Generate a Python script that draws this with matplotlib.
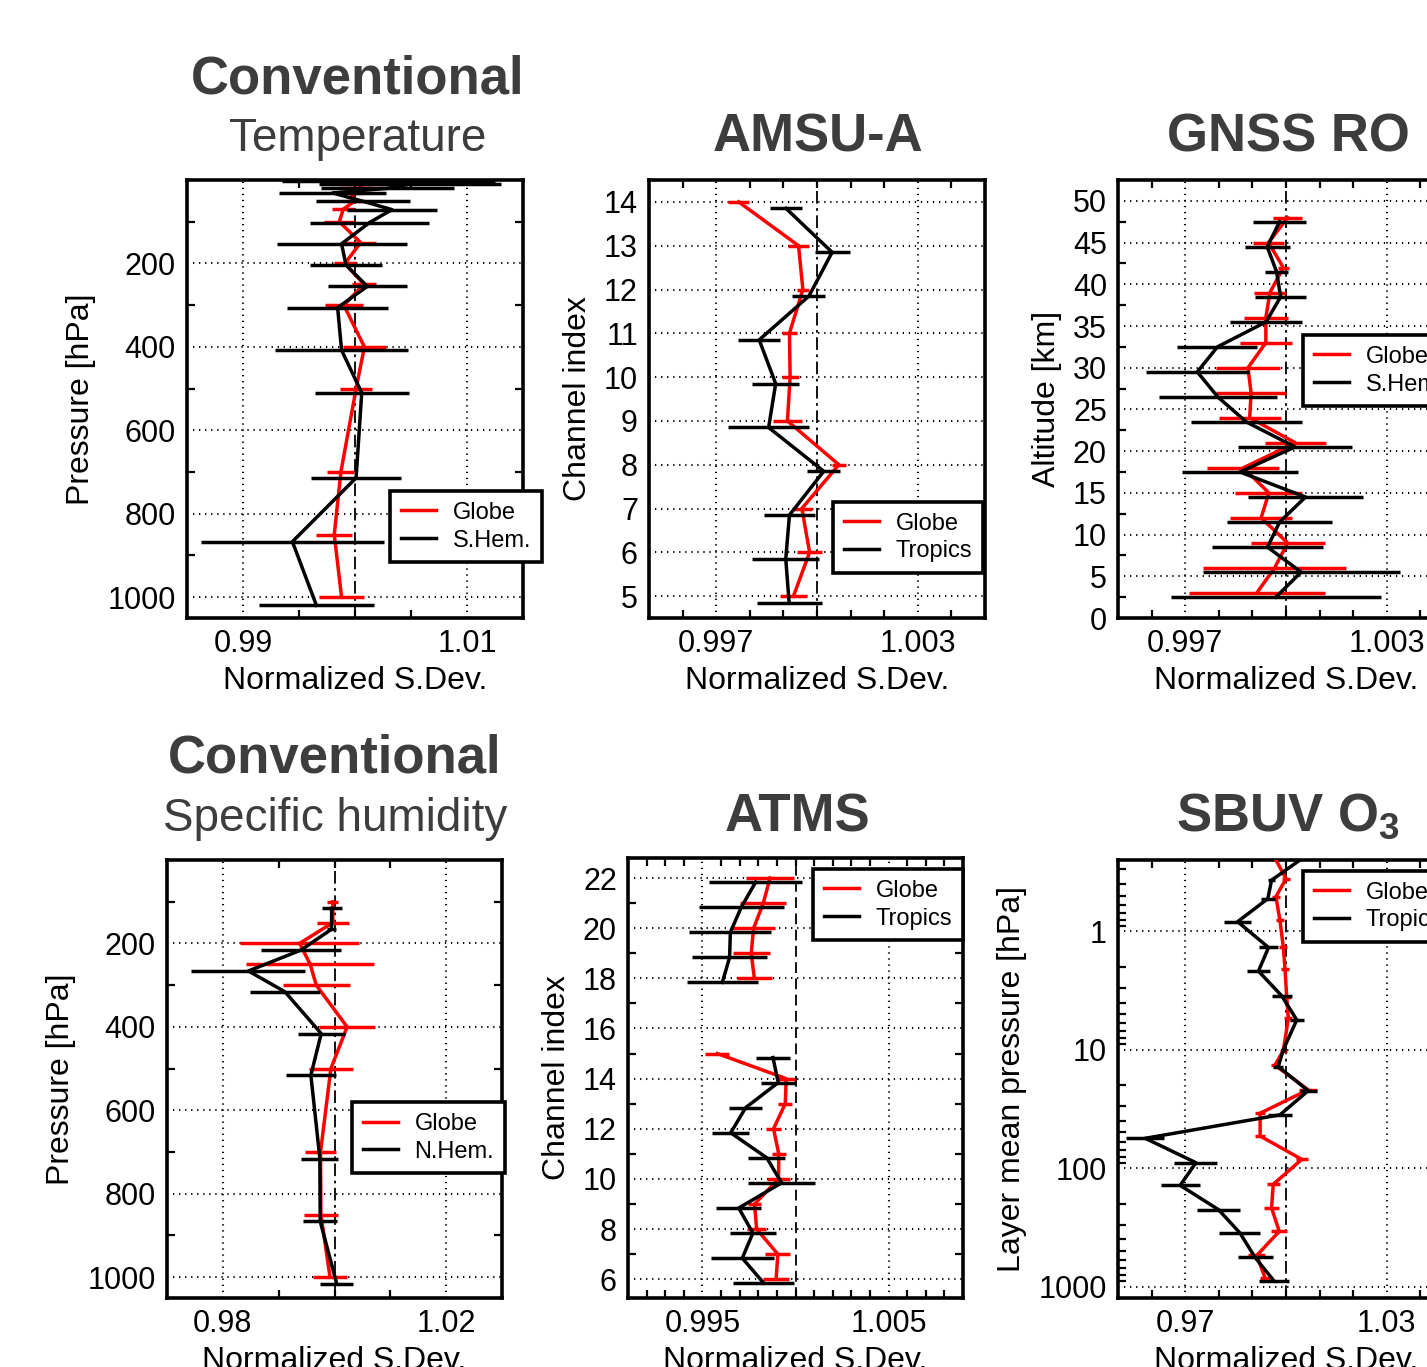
import numpy as np
import matplotlib
matplotlib.use('Agg')
import matplotlib.pyplot as plt
from matplotlib.lines import Line2D
from matplotlib.ticker import LogLocator, NullFormatter

plt.rcParams['font.family'] = ['Liberation Sans', 'DejaVu Sans']
plt.rcParams['mathtext.fontset'] = 'custom'
plt.rcParams['mathtext.rm'] = 'Liberation Sans'
plt.rcParams['mathtext.bf'] = 'Liberation Sans:bold'

# ---- Conventional temperature (Globe / S.Hem.)
t_lev_red = [1000, 850, 700, 500, 400, 300, 250, 200, 150, 100, 70, 50, 30, 20, 10]
t_red = [0.9988, 0.99815, 0.99874, 1.0001, 1.00084, 0.9990, 1.0008, 0.9991, 1.0005,
         0.9986, 0.99895, 1.0000, 0.9996, 1.0004, 1.0006]
t_red_err = [0.0020, 0.0016, 0.0012, 0.0014, 0.0019, 0.0017, 0.0011, 0.0010, 0.0014,
             0.0014, 0.0010, 0.0008, 0.0010, 0.0012, 0.0020]
t_lev_blk = [1020, 867, 714, 510, 408, 306, 255, 204, 153, 102, 71, 51, 31, 20, 10, 5, 2]
t_blk = [0.99656, 0.99441, 1.0001, 1.0006, 0.9988, 0.99845, 1.0011, 0.9992, 0.9988,
         1.0013, 1.0033, 1.0007, 0.9980, 1.0029, 1.0049, 1.0045, 1.0030]
t_blk_err = [0.0051, 0.0082, 0.0040, 0.0042, 0.0059, 0.0045, 0.0035, 0.0032, 0.0058,
             0.0053, 0.0040, 0.0042, 0.0048, 0.0059, 0.0081, 0.0070, 0.0095]

# ---- AMSU-A (Globe / Tropics)
a_ch_red = [5, 6, 7, 8, 9, 10, 11, 12, 13, 14]
a_red = [0.9993, 0.99978, 0.99955, 1.00065, 0.99912, 0.9992, 0.99918, 0.99958, 0.99945, 0.99767]
a_red_err = [0.0004, 0.00037, 0.0003, 0.0002, 0.00042, 0.00025, 0.00022, 0.00017, 0.0003, 0.00032]
a_ch_blk = [4.85, 5.85, 6.85, 7.85, 8.85, 9.85, 10.85, 11.85, 12.85, 13.85]
a_blk = [0.99917, 0.99907, 0.99918, 1.0002, 0.99856, 0.99877, 0.99828, 0.99976, 1.00045, 0.99908]
a_blk_err = [0.00097, 0.0010, 0.00077, 0.00049, 0.0012, 0.0007, 0.00062, 0.00049, 0.00052, 0.00048]

# ---- GNSS RO (Globe / S.Hem.)
g_alt_red = [3, 6, 9, 12, 15, 18, 21, 24, 27, 30, 33, 36, 39, 42, 45, 48]
g_red = [0.99913, 0.99966, 1.00005, 0.99926, 0.99949, 0.99873, 1.00028, 0.99892,
         0.99896, 0.99887, 0.9994, 0.9994, 0.99952, 0.99992, 0.99948, 1.00005]
g_red_err = [0.00203, 0.00213, 0.0011, 0.00092, 0.0010, 0.00107, 0.0009, 0.00092,
             0.00103, 0.00095, 0.00078, 0.00065, 0.00048, 0.00017, 0.00047, 0.00043]
g_alt_blk = [2.5, 5.5, 8.5, 11.5, 14.5, 17.5, 20.5, 23.5, 26.5, 29.5, 32.5, 35.5, 38.5, 41.5, 44.5, 47.5]
g_blk = [0.9997, 1.00045, 0.99945, 0.99981, 1.00058, 0.99863, 1.00027, 0.99882,
         0.99797, 0.99736, 0.99796, 0.99941, 0.99984, 0.99972, 0.99944, 0.99981]
g_blk_err = [0.00312, 0.00293, 0.00165, 0.00156, 0.00171, 0.00173, 0.0017, 0.00165,
             0.00175, 0.00154, 0.00119, 0.00108, 0.00077, 0.00035, 0.00067, 0.00079]

# ---- Conventional specific humidity (Globe / N.Hem.)
q_lev_red = [1000, 850, 700, 500, 400, 300, 250, 200, 150, 100]
q_red = [0.9992, 0.99756, 0.9975, 0.99935, 1.00226, 0.99673, 0.99565, 0.99375, 0.9997, 0.9997]
q_red_err = [0.0030, 0.0030, 0.0028, 0.0040, 0.0050, 0.0060, 0.0115, 0.0106, 0.0029, 0.0010]
q_lev_blk = [1016, 866, 716, 516, 416, 316, 266, 216, 166, 116]
q_blk = [1.0004, 0.99744, 0.99738, 0.99577, 0.99762, 0.99113, 0.98458, 0.99399, 0.99946, 0.9995]
q_blk_err = [0.0030, 0.0030, 0.0033, 0.0045, 0.0042, 0.0063, 0.0102, 0.0071, 0.0008, 0.0018]

# ---- ATMS (Globe / Tropics), no channels 16-17
m_ch_red = [6, 7, 8, 9, 10, 11, 12, 13, 14, 15, 16, 17, 18, 19, 20, 21, 22]
m_red = [0.99896, 0.99905, 0.99791, 0.9978, 0.99909, 0.9991, 0.99882, 0.99945, 0.9995,
         0.9958, np.nan, np.nan, 0.99779, 0.99762, 0.99775, 0.99827, 0.99863]
m_red_err = [0.0007, 0.00067, 0.00052, 0.00036, 0.0006, 0.00037, 0.0004, 0.00038, 0.00049,
             0.00064, np.nan, np.nan, 0.00094, 0.0010, 0.00115, 0.00123, 0.0013]
m_ch_blk = [5.84, 6.84, 7.84, 8.84, 9.84, 10.84, 11.84, 12.84, 13.84, 14.84, 15.84, 16.84,
            17.84, 18.84, 19.84, 20.84, 21.84]
m_blk = [0.9983, 0.99714, 0.99771, 0.99695, 0.99925, 0.99846, 0.99652, 0.99732, 0.99907,
         0.99879, np.nan, np.nan, 0.99607, 0.99646, 0.9965, 0.99709, 0.99786]
m_blk_err = [0.00164, 0.0017, 0.00125, 0.0012, 0.0018, 0.0010, 0.0010, 0.0009, 0.00095,
             0.0009, np.nan, np.nan, 0.0019, 0.0020, 0.0022, 0.0023, 0.0025]

# ---- SBUV O3 (Globe / Tropics)
s_lev_red = [0.2, 0.36, 0.51, 0.81, 1.36, 2.07, 3.56, 5.43, 10.2, 13.5, 21.8, 34.4, 53.6,
             84.4, 137, 217, 342, 546, 850]
s_red = [0.9952, 1.0, 0.997, 0.9982, 0.9992, 0.9997, 1.0002, 1.0007, 0.9992, 0.9967, 1.0066,
         0.9923, 0.9923, 1.0047, 0.9962, 0.9957, 0.998, 0.9913, 0.9938]
s_red_err = [0.0012, 0.0012, 0.0012, 0.0012, 0.0012, 0.0012, 0.0012, 0.0012, 0.0010, 0.0012,
             0.0027, 0.0015, 0.0015, 0.0017, 0.0020, 0.0022, 0.0024, 0.0025, 0.0015]
s_lev_blk = [0.2, 0.37, 0.53, 0.83, 1.37, 2.17, 3.5, 5.6, 10.0, 13.9, 22.2, 35.5, 56, 90,
             140, 224, 353, 568, 895]
s_blk = [1.009, 0.9957, 0.9946, 0.9856, 0.9948, 0.9918, 0.9987, 1.0032, 0.9992, 0.9977,
         1.0066, 0.9982, 0.9581, 0.9732, 0.9685, 0.9799, 0.9863, 0.9908, 0.9964]
s_blk_err = [0.0010, 0.0011, 0.0020, 0.0041, 0.0028, 0.0035, 0.0030, 0.0021, 0.0008, 0.0015,
             0.0025, 0.0036, 0.0057, 0.0064, 0.0058, 0.0063, 0.0061, 0.0052, 0.0044]

W, H = 1427, 1367
fig = plt.figure(figsize=(W / 100, H / 100), dpi=100)
TITLE_C = '#3d3d3d'
LW = 2.5


def rect(x0, y0, x1, y1):
    return [x0 / W, 1 - y1 / H, (x1 - x0) / W, (y1 - y0) / H]


def ftext(x, y, s, **kw):
    fig.text(x / W, 1 - y / H, s, ha='center', va='baseline', color=TITLE_C, **kw)


def panel(box, xr, er, yr, xb, eb, yb, other, xlim, xmaj, xlab, xmin, ylim, ymaj, ylab,
          ymin, ylabel, leg_xy, vls=(0, (7, 2.5, 1.5, 2.5)), logy=False):
    ax = fig.add_axes(rect(*box))
    if logy:
        ax.set_yscale('log')
    ax.errorbar(xr, yr, xerr=er, color='r', lw=LW, elinewidth=LW, capsize=0, zorder=3)
    ax.errorbar(xb, yb, xerr=eb, color='k', lw=LW, elinewidth=LW, capsize=0, zorder=4)
    ax.axvline(1.0, color='k', lw=1.3, ls=vls, zorder=2)
    ax.set_xlim(xlim)
    ax.set_ylim(ylim)
    ax.set_xticks(xmaj)
    ax.set_xticklabels(xlab)
    ax.set_xticks(xmin, minor=True)
    ax.set_yticks(ymaj)
    ax.set_yticklabels(ylab)
    if logy:
        ax.yaxis.set_minor_locator(LogLocator(base=10, subs=np.arange(2, 10), numticks=20))
        ax.yaxis.set_minor_formatter(NullFormatter())
    else:
        ax.set_yticks(ymin, minor=True)
    ax.tick_params(which='major', length=0, labelsize=22, pad=8, labelcolor='k')
    ax.tick_params(which='minor', direction='in', length=6, width=1.6, top=True, right=True)
    ax.grid(True, which='major', color='k', linestyle=(0, (0.6, 2.3)), linewidth=1.5, zorder=1)
    ax.set_axisbelow(True)
    for sp in ax.spines.values():
        sp.set_linewidth(2.6)
    ax.set_xlabel('Normalized S.Dev.', fontsize=23, labelpad=5)
    ax.set_ylabel(ylabel, fontsize=23, labelpad=8)
    handles = [Line2D([], [], color='r', lw=LW), Line2D([], [], color='k', lw=LW)]
    leg = ax.legend(handles, ['Globe', other], loc='upper left', bbox_to_anchor=leg_xy,
                    fontsize=17, frameon=True, fancybox=False, framealpha=1, edgecolor='k',
                    handlelength=1.5, handletextpad=0.7, labelspacing=0.25, borderpad=0.45,
                    borderaxespad=0)
    leg.get_frame().set_linewidth(2.6)
    leg.set_zorder(10)
    return ax


# top row
panel((187, 180, 523, 618), t_red, t_red_err, t_lev_red, t_blk, t_blk_err, t_lev_blk, 'S.Hem.',
      (0.985, 1.015), [0.99, 1.01], ['0.99', '1.01'], [0.995, 1.0, 1.005],
      (1050, 0), [200, 400, 600, 800, 1000], ['200', '400', '600', '800', '1000'],
      [100, 300, 500, 700, 900], 'Pressure [hPa]', (0.604, 0.29))

panel((649, 180, 985, 618), a_red, a_red_err, a_ch_red, a_blk, a_blk_err, a_ch_blk, 'Tropics',
      (0.995, 1.005), [0.997, 1.003], ['0.997', '1.003'], np.arange(0.996, 1.0045, 0.001),
      (4.5, 14.5), list(range(5, 15)), [str(c) for c in range(5, 15)], [],
      'Channel index', (0.548, 0.265))

panel((1118, 180, 1454, 618), g_red, g_red_err, g_alt_red, g_blk, g_blk_err, g_alt_blk, 'S.Hem.',
      (0.995, 1.005), [0.997, 1.003], ['0.997', '1.003'], np.arange(0.996, 1.0045, 0.001),
      (0, 52.5), list(range(0, 51, 5)), [str(v) for v in range(0, 51, 5)],
      np.arange(2.5, 52, 5), 'Altitude [km]', (0.551, 0.646))

# bottom row
panel((167, 860, 502, 1298), q_red, q_red_err, q_lev_red, q_blk, q_blk_err, q_lev_blk, 'N.Hem.',
      (0.97, 1.03), [0.98, 1.02], ['0.98', '1.02'], [0.99, 1.0, 1.01],
      (1050, 0), [200, 400, 600, 800, 1000], ['200', '400', '600', '800', '1000'],
      [100, 300, 500, 700, 900], 'Pressure [hPa]', (0.552, 0.447))

panel((628, 858, 963, 1298), m_red, m_red_err, m_ch_red, m_blk, m_blk_err, m_ch_blk, 'Tropics',
      (0.991, 1.009), [0.995, 1.005], ['0.995', '1.005'], np.arange(0.992, 1.0085, 0.001),
      (5.25, 22.8), list(range(6, 23, 2)), [str(c) for c in range(6, 23, 2)],
      list(range(7, 23, 2)), 'Channel index', (0.552, 0.975), vls=(0, (6, 3)))

panel((1118, 860, 1454, 1298), s_red, s_red_err, s_lev_red, s_blk, s_blk_err, s_lev_blk, 'Tropics',
      (0.95, 1.05), [0.97, 1.03], ['0.97', '1.03'], [0.96, 0.98, 0.99, 1.0, 1.01, 1.02, 1.04],
      (1250, 0.25), [1, 10, 100, 1000], ['1', '10', '100', '1000'], [],
      'Layer mean pressure [hPa]', (0.551, 0.975), logy=True)

# titles
ftext(358, 93, 'Conventional', fontsize=38, fontweight='bold')
ftext(358, 151, 'Temperature', fontsize=33)
ftext(818, 152, 'AMSU-A', fontsize=38, fontweight='bold')
ftext(1288, 152, 'GNSS RO', fontsize=38, fontweight='bold')
ftext(335, 773, 'Conventional', fontsize=38, fontweight='bold')
ftext(335, 831, 'Specific humidity', fontsize=33)
ftext(797, 831, 'ATMS', fontsize=38, fontweight='bold')
ftext(1288, 831, r'SBUV O$_\mathbf{3}$', fontsize=38, fontweight='bold')

fig.savefig('out.png', dpi=100)
